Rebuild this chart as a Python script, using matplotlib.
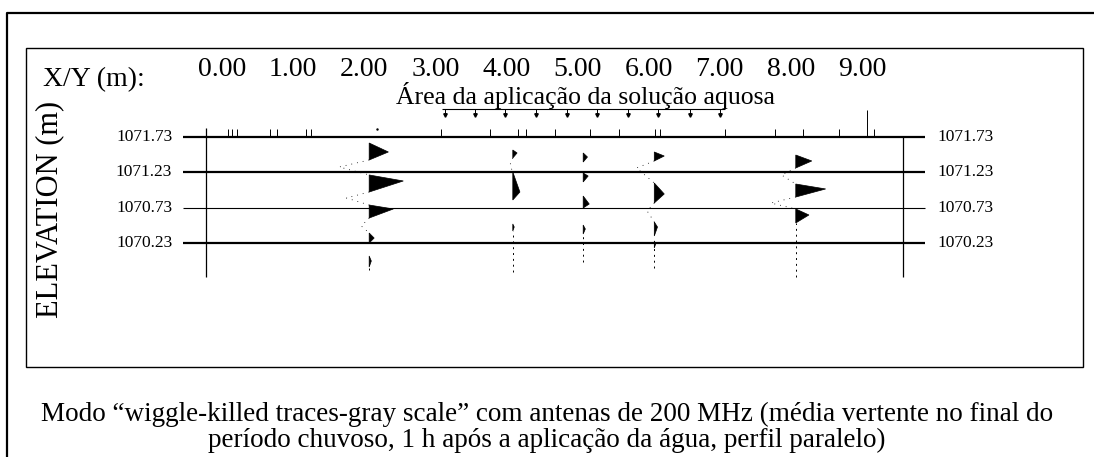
import matplotlib.pyplot as plt
from matplotlib.patches import Polygon, Rectangle
from matplotlib.lines import Line2D

plt.rcParams['font.family'] = ['Liberation Serif', 'DejaVu Serif']

W, H = 1094, 457

# distance along profile (m)
dist_ticks = [0, 1, 2, 3, 4, 5, 6, 7, 8, 9]
dist_labels = ['0.00', '1.00', '2.00', '3.00', '4.00', '5.00', '6.00', '7.00', '8.00', '9.00']

# elevation reference lines (m)
elev_levels = [1071.73, 1071.23, 1070.73, 1070.23]
elev_labels = ['1071.73', '1071.23', '1070.73', '1070.23']
elev_widths = [1.6, 1.6, 0.8, 1.6]

# marks along the surface line (m)
surface_marks = [0.08, 0.14, 0.21, 0.68, 0.77, 1.18, 1.25, 3.08, 3.77, 4.16, 4.28,
                 4.68, 5.18, 5.58, 6.09, 6.16, 7.07, 7.78, 8.17, 8.68, 9.17]
surface_mark_tall = 9.07
surface_dot = 2.18

# application points of the aqueous solution (m)
application_points = [3.14, 3.56, 3.98, 4.42, 4.85, 5.27, 5.71, 6.13, 6.58, 7.00]
application_span = (3.09, 7.07)

# traces: position (m) and lowest elevation of the faint trace
trace_x = [2.07, 4.09, 5.08, 6.08, 8.07]
trace_end = [1069.85, 1069.82, 1069.96, 1069.88, 1069.75]

# positive lobes per trace: (top, peak, bottom elevation, amplitude in m)
pos_lobes = [
    [(1071.645, 1071.518, 1071.405, 0.27), (1071.193, 1071.108, 1070.952, 0.48),
     (1070.768, 1070.712, 1070.584, 0.34), (1070.372, 1070.301, 1070.231, 0.07),
     (1070.047, 1069.976, 1069.891, 0.03)],
    [(1071.546, 1071.504, 1071.433, 0.06), (1071.235, 1070.952, 1070.839, 0.10),
     (1070.500, 1070.457, 1070.400, 0.02)],
    [(1071.504, 1071.447, 1071.376, 0.06), (1071.221, 1071.178, 1071.094, 0.07),
     (1070.895, 1070.782, 1070.726, 0.085), (1070.485, 1070.429, 1070.358, 0.03)],
    [(1071.518, 1071.461, 1071.391, 0.14), (1071.079, 1070.924, 1070.797, 0.14),
     (1070.528, 1070.457, 1070.330, 0.045), (1070.260, 1070.220, 1070.160, 0.02)],
    [(1071.475, 1071.391, 1071.292, 0.225), (1071.065, 1070.995, 1070.881, 0.42),
     (1070.712, 1070.627, 1070.514, 0.185)],
]

# negative lobes per trace (drawn faint)
neg_lobes = [
    [(1071.405, 1071.306, 1071.193, -0.42), (1070.952, 1070.867, 1070.768, -0.32),
     (1070.584, 1070.471, 1070.372, -0.11)],
    [(1071.433, 1071.334, 1071.235, -0.04)],
    [],
    [(1071.391, 1071.292, 1071.079, -0.25), (1070.797, 1070.683, 1070.528, -0.10)],
    [(1071.292, 1071.193, 1071.065, -0.20), (1070.881, 1070.796, 1070.712, -0.35)],
]

# pixel layout of the data frame: x = 0 m at 222 px, elevation 1071.73 at 137 px
PX_PER_M_X = 71.1
PX_PER_M_Y = 70.7
X0_PX, Y0_PX, E0 = 222, 137, 1071.73

fig = plt.figure(figsize=(W / 100, H / 100), dpi=100)
ax = fig.add_axes([0, 0, 1, 1])
ax.set_xlim(-X0_PX / PX_PER_M_X, (W - X0_PX) / PX_PER_M_X)
ax.set_ylim(E0 - (H - Y0_PX) / PX_PER_M_Y, E0 + Y0_PX / PX_PER_M_Y)
ax.axis('off')

# outer frame and inner panel
fig.add_artist(Line2D([7 / W, 7 / W, 1.01], [-0.01, 1 - 13 / H, 1 - 13 / H],
                      transform=fig.transFigure, color='black', lw=1.6))
fig.add_artist(Rectangle((26 / W, 1 - 367 / H), (1083 - 26) / W, (367 - 48) / H,
                         transform=fig.transFigure, fill=False, ec='black', lw=1.0))

x_left, x_right = -0.55, 9.89
ax.hlines(elev_levels, x_left, x_right, colors='black', linewidths=elev_widths)
for e, lab in zip(elev_levels, elev_labels):
    ax.text(x_left - 0.15, e, lab, ha='right', va='center', fontsize=12.5)
    ax.text(x_right + 0.17, e, lab, ha='left', va='center', fontsize=12.5)

# side borders of the section
bottom_e = 1069.75
ax.vlines(-0.225, bottom_e, elev_levels[0] + 0.127, colors='black', lw=0.9)
ax.vlines(9.58, bottom_e, elev_levels[0], colors='black', lw=0.9)

# surface marks
ax.vlines(surface_marks, elev_levels[0], elev_levels[0] + 0.115, colors='black', lw=0.7)
ax.vlines(surface_mark_tall, elev_levels[0], elev_levels[0] + 0.38, colors='black', lw=0.7)
ax.plot([surface_dot], [elev_levels[0] + 0.12], 'k.', ms=1.5)

# distance labels
for d, lab in zip(dist_ticks, dist_labels):
    ax.text(d, 1072.593, lab, ha='center', va='baseline', fontsize=20)
ax.text(-2.52, 1072.451, 'X/Y (m):', ha='left', va='baseline', fontsize=20)

# application area
ax.text(5.11, 1072.197, 'Área da aplicação da solução aquosa', ha='center',
        va='baseline', fontsize=18.5)
ax.hlines(1072.126, *application_span, colors='black', lw=0.8)
ax.vlines(application_points, 1072.03, 1072.126, colors='black', lw=0.7)
ax.plot(application_points, [1072.045] * len(application_points), 'kv', ms=2.5)

ax.text(-2.42, 1070.71, 'ELEVATION (m)', rotation=90, ha='center', va='center',
        fontsize=22)

# wiggle traces
for x0, end, pl, nl in zip(trace_x, trace_end, pos_lobes, neg_lobes):
    for top, peak, bot, amp in pl:
        ax.add_patch(Polygon([(x0, top), (x0 + amp, peak), (x0, bot)],
                             closed=True, fc='black', ec='black', lw=0.5))
    for top, peak, bot, amp in nl:
        ax.plot([x0, x0 + amp, x0], [top, peak, bot], color='black', lw=0.6,
                ls=(0, (1, 6)))
    low = min(l[2] for l in pl)
    if end < low:
        ax.vlines(x0, end, low, colors='black', lw=0.7, linestyles=(0, (2, 4)))

# caption
cap_x = 547 / W
fig.text(cap_x, 1 - 421 / H,
         'Modo “wiggle-killed traces-gray scale” com antenas de 200 MHz (média vertente no final do',
         ha='center', va='baseline', fontsize=19.5)
fig.text(cap_x, 1 - 447 / H,
         'período chuvoso, 1 h após a aplicação da água, perfil paralelo)',
         ha='center', va='baseline', fontsize=19.5)

fig.savefig('out.png', dpi=100)
